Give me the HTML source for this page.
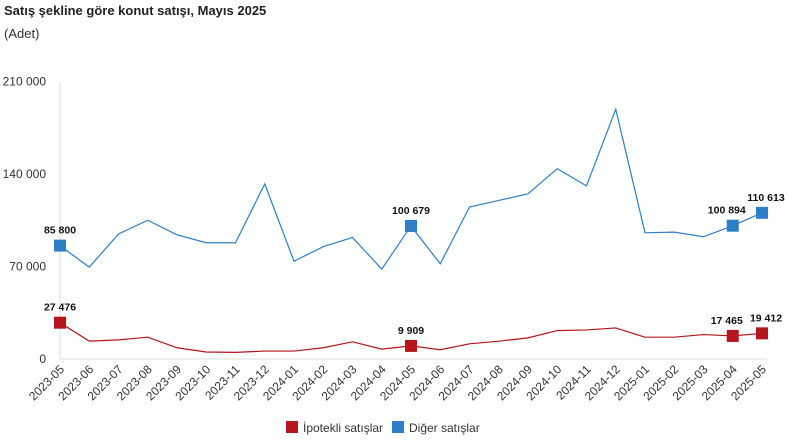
<!DOCTYPE html>
<html><head><meta charset="utf-8"><style>
body{margin:0;background:#fff;font-family:"Liberation Sans",sans-serif;}
svg text{font-family:"Liberation Sans",sans-serif;}
</style></head><body>
<svg id="c" width="787" height="441" xmlns="http://www.w3.org/2000/svg">
<text x="4" y="15" font-size="13" font-weight="bold" fill="#222">Satış şekline göre konut satışı, Mayıs 2025</text>
<text x="4" y="38" font-size="13" fill="#333">(Adet)</text>
</svg>
<script>
const s=document.getElementById('c'),NS='http://www.w3.org/2000/svg';
function el(t,a,txt){const e=document.createElementNS(NS,t);for(const k in a)e.setAttribute(k,a[k]);if(txt!=null)e.textContent=txt;s.appendChild(e);return e;}
const x0=60,dx=29.25,y0=359,k=92.5/70000;
const X=i=>x0+i*dx,Y=v=>y0-v*k;
const blue=[85800,69500,94600,105000,94000,88000,88000,132500,74000,85000,92000,68000,100679,72000,115000,120000,125000,144000,131000,189000,95500,96000,92500,100894,110613];
const red=[27476,13500,14500,16500,8500,5300,5000,6000,6000,8500,13000,7500,9909,7000,11500,13500,16000,21500,22000,23500,16500,16500,18500,17465,19412];
el('line',{x1:x0,y1:82,x2:x0,y2:y0,stroke:'#ddd'});
el('line',{x1:x0,y1:y0,x2:X(24)+5,y2:y0,stroke:'#ddd'});
[[0,'0'],[70000,'70 000'],[140000,'140 000'],[210000,'210 000']].forEach(([v,t])=>el('text',{x:46,y:Y(v)+4,'font-size':12,'text-anchor':'end',fill:'#333'},t));
const lab=[];for(let y=2023,m=5;lab.length<25;){lab.push(y+'-'+String(m).padStart(2,'0'));m++;if(m>12){m=1;y++;}}
lab.forEach((t,i)=>el('text',{x:X(i)+5,y:370,'font-size':12,'text-anchor':'end',fill:'#333',transform:`rotate(-45 ${X(i)+5} 370)`},t));
function series(d,c,mk){el('polyline',{points:d.map((v,i)=>X(i)+','+Y(v)).join(' '),fill:'none',stroke:c,'stroke-width':1.2});
mk.forEach(i=>{el('rect',{x:X(i)-6,y:Y(d[i])-6,width:12,height:12,fill:c});
el('text',{x:X(i)+(i==24?4:i==23?-6:0),y:Y(d[i])-12,'font-size':10.5,'font-weight':'bold','text-anchor':'middle',fill:'#111'},d[i].toLocaleString('en').replace(',',' '));});}
series(blue,'#2d7fc8',[0,12,23,24]);
series(red,'#b5151b',[0,12,23,24]);
el('rect',{x:286,y:421,width:12,height:12,fill:'#b5151b'});
el('text',{x:303,y:432,'font-size':12,fill:'#333'},'İpotekli satışlar');
el('rect',{x:392,y:421,width:12,height:12,fill:'#2d7fc8'});
el('text',{x:409,y:432,'font-size':12,fill:'#333'},'Diğer satışlar');
</script>
</body></html>
